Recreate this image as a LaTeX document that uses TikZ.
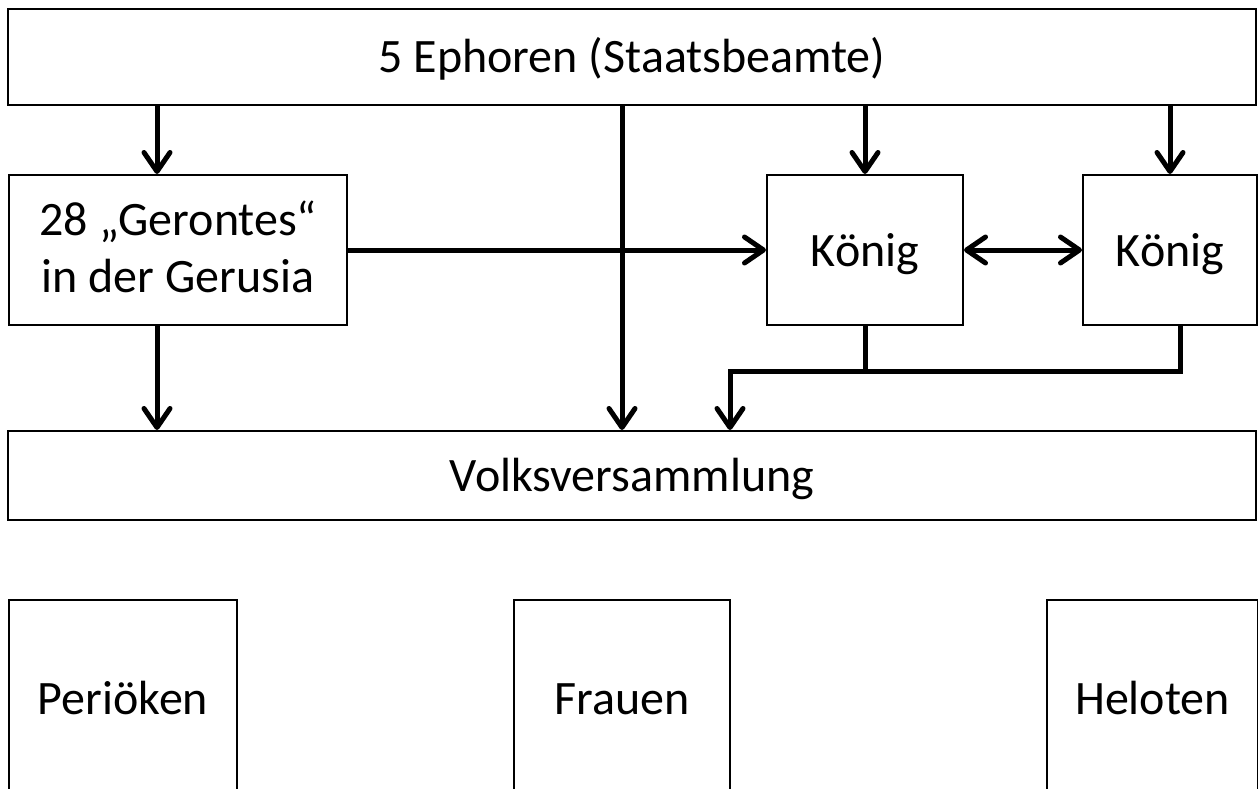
\documentclass[tikz,border=0pt]{standalone}
\usepackage{fontspec}
\setmainfont{Carlito}
\usetikzlibrary{arrows.meta}
\tikzset{
  box/.style={draw=black, line width=2pt, inner sep=0pt, fill=white,
    font=\fontsize{48}{57}\selectfont, text height=40pt, text depth=8pt},
  txt/.style={inner sep=0pt, font=\fontsize{48}{57}\selectfont, anchor=base},
  tip/.style={},
  conn/.style={line width=5pt, draw=black},
  arr/.style={conn, -{Straight Barb[length=19pt,width=26pt,round]}},
  darr/.style={conn, {Straight Barb[length=19pt,width=26pt,round]}-{Straight Barb[length=19pt,width=26pt,round]}}
}
\begin{document}
\begin{tikzpicture}[x=1pt,y=-1pt]
\useasboundingbox (0,0) rectangle (1258,789);
\clip (0,0) rectangle (1258,789);
\fill[white] (0,0) rectangle (1258,789);
% boxes
\node[box, minimum width=1248pt, minimum height=96pt] (eph) at (632,57) {5 Ephoren (Staatsbeamte)};
\node[box, minimum width=338pt, minimum height=150pt] (ger) at (178,250) {};
\node[txt, yshift=15pt] (ger1) at (ger.center) {28 „Gerontes“};
\node[txt, yshift=-42pt] (ger2) at (ger.center) {in der Gerusia};
\node[box, minimum width=196pt, minimum height=150pt] (k1) at (865,250) {König};
\node[box, minimum width=174pt, minimum height=150pt] (k2) at (1170,250) {König};
\node[box, minimum width=1248pt, minimum height=89pt] (volk) at (632,475.5) {Volksversammlung};
\node[box, minimum width=228pt, minimum height=196pt] (per) at (123,698) {Periöken};
\node[box, minimum width=216pt, minimum height=196pt] (fra) at (622,698) {Frauen};
\node[box, minimum width=211pt, minimum height=196pt] (hel) at (1152.5,698) {Heloten};
% helper coordinates
\coordinate (xg) at (157,0);
\coordinate (xm) at (622,0);
\coordinate (xk2) at (1180,0);
\coordinate (j) at (730,371);
% connectors
\draw[arr] (xg |- eph.south) -- (xg |- ger.north);
\draw[arr] (xm |- eph.south) -- (xm |- volk.north);
\draw[arr] (k1.north |- eph.south) -- (k1.north);
\draw[arr] (k2.north |- eph.south) -- (k2.north);
\draw[arr] (ger.east) -- (k1.west);
\draw[darr] (k1.east) -- (k2.west);
\draw[arr] (xg |- ger.south) -- (xg |- volk.north);
\draw[conn] (k1.south) -- (k1.south |- j);
\draw[arr, line join=miter] (xk2 |- k2.south) |- (j) -- (j |- volk.north);
\end{tikzpicture}
\end{document}
